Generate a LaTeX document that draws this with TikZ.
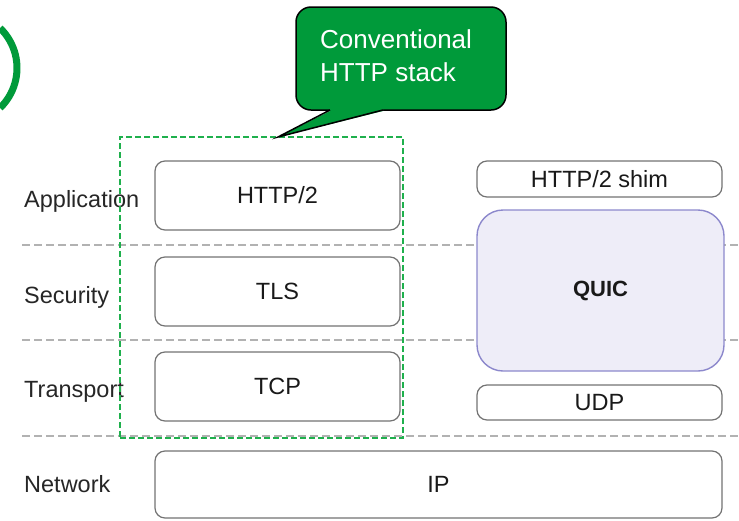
\documentclass[tikz,border=0pt]{standalone}
\usepackage{fontspec}
\setmainfont{Liberation Sans}
\begin{document}
\begin{tikzpicture}[x=1pt,y=-1pt,
  layerlabel/.style={anchor=base west,text=black!85,font=\fontsize{23.5}{28}\selectfont,inner sep=0pt},
  stackbox/.style={draw=black!55,line width=1.2pt,rounded corners=10pt,fill=white,
    text=black!90,font=\fontsize{23.5}{28}\selectfont,inner sep=0pt},
  quicbox/.style={draw=quicborder,line width=1.4pt,rounded corners=26pt,
    fill=quicfill,text=black!90,font=\bfseries\fontsize{22}{26}\selectfont,inner sep=0pt},
  separator/.style={draw=black!30,line width=1.3pt,dash pattern=on 8pt off 4pt},
  groupframe/.style={draw=stackgreen,line width=2pt,dash pattern=on 6pt off 3pt},
]
\definecolor{quicfill}{HTML}{EEEDF8}
\definecolor{quicborder}{HTML}{8C88CC}
\definecolor{stackgreen}{HTML}{1FB04D}
\definecolor{calloutgreen}{HTML}{009A3A}
\useasboundingbox (0,0) rectangle (739,520);

% green arc at the top-left edge
\begin{scope}
  \clip (0,0) rectangle (739,520);
  \draw[calloutgreen,line width=7pt] (-38.5,68) ++(46:55.5) arc[start angle=46,end angle=-46,radius=55.5];
\end{scope}

% layer separators
\coordinate (s1a) at (22,245); \coordinate (s1b) at (739,245);
\coordinate (s2a) at (22,340); \coordinate (s2b) at (739,340);
\coordinate (s3a) at (22,436); \coordinate (s3b) at (739,436);
\draw[separator] (s1a) -- (s1b);
\draw[separator] (s2a) -- (s2b);
\draw[separator] (s3a) -- (s3b);

% layer names
\node[layerlabel] (lapp) at (24,207) {Application};
\node[layerlabel] (lsec) at (24,303) {Security};
\node[layerlabel] (ltra) at (24,397) {Transport};
\node[layerlabel] (lnet) at (24,492) {Network};

% conventional stack
\node[stackbox,minimum width=245pt,minimum height=69pt] (http2) at (277.5,195.5) {HTTP/2};
\node[stackbox,minimum width=245pt,minimum height=69pt] (tls) at (277.5,291.5) {TLS};
\node[stackbox,minimum width=245pt,minimum height=69pt] (tcp) at (277.5,386.5) {TCP};

% QUIC stack
\node[stackbox,minimum width=245pt,minimum height=36pt] (shim) at (599.5,179) {HTTP/2 shim};
\node[quicbox,minimum width=247pt,minimum height=161pt] (quic) at (600.5,290.5) {QUIC};
\node[stackbox,minimum width=245pt,minimum height=35pt] (udp) at (599.5,402.5) {UDP};

% shared network layer
\node[stackbox,minimum width=567pt,minimum height=67pt] (ip) at (438.5,484.5) {IP};

% frame around the conventional stack
\node[groupframe,minimum width=283pt,minimum height=301pt,inner sep=0pt] (frame) at (261.5,287.5) {};
\coordinate (tip) at (278,137);

% callout
\node[draw=black,line width=1.5pt,fill=calloutgreen,rounded corners=15pt,
  minimum width=210pt,minimum height=103pt,inner sep=0pt] (callout) at (401,58.5) {};
\fill[calloutgreen] (330,104) -- (330,111) -- (tip) -- (383,111) -- (383,104) -- cycle;
\draw[black,line width=1.5pt,line join=miter] (330,110) -- (tip) -- (383,110);
\node[anchor=base west,text=white,font=\fontsize{26}{33}\selectfont,inner sep=0pt] (ctext1) at (320,48) {Conventional};
\node[anchor=base west,text=white,font=\fontsize{26}{33}\selectfont,inner sep=0pt] (ctext2) at (320,81) {HTTP stack};
\end{tikzpicture}
\end{document}
